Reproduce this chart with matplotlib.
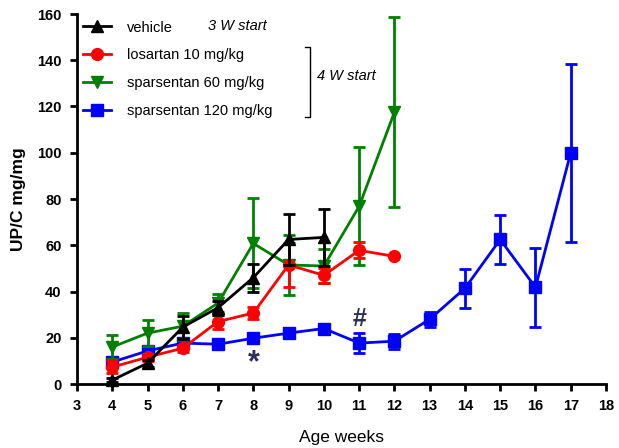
import matplotlib
matplotlib.use("Agg")
import matplotlib.pyplot as plt
from matplotlib.lines import Line2D

plt.rcParams['font.family'] = ['Liberation Sans', 'DejaVu Sans']

# ---- data ----
weeks_veh = [4, 5, 6, 7, 8, 9, 10]
veh_mean = [1.7, 9, 24.6, 33, 46, 62.5, 63.4]
veh_err = [1.0, 1.5, 5.0, 3.0, 6.0, 11.0, 12.4]

weeks_los = [4, 5, 6, 7, 8, 9, 10, 11, 12]
los_mean = [7.3, 11.6, 15.5, 27, 30.7, 51.5, 47, 57.8, 55.2]
los_err = [2.5, 1.5, 1.5, 3.0, 2.5, 9.5, 3.2, 3.5, 0]

weeks_sp60 = [4, 5, 6, 7, 8, 9, 10, 11, 12]
sp60_mean = [16, 22, 25, 35, 60.8, 51.5, 51, 76.8, 117.5]
sp60_err = [5.0, 5.5, 5.8, 4.0, 19.5, 12.8, 7.5, 25.5, 41.0]

weeks_sp120 = [4, 5, 6, 7, 8, 9, 10, 11, 12, 13, 14, 15, 16, 17]
sp120_mean = [9.5, 14.3, 17.7, 17.2, 19.8, 22, 24, 17.7, 18.5, 28, 41.4, 62.5, 41.8, 100]
sp120_err = [2.0, 1.5, 1.0, 1.0, 1.0, 1.0, 2.0, 4.5, 3.3, 3.3, 8.5, 10.4, 17.0, 38.5]

labels = ["vehicle", "losartan 10 mg/kg", "sparsentan 60 mg/kg", "sparsentan 120 mg/kg"]
xticks = list(range(3, 19))
yticks = list(range(0, 161, 20))

W, H = 619, 448
fig = plt.figure(figsize=(W / 100, H / 100), dpi=100)
ax = fig.add_axes([77 / W, (H - 384) / H, (606 - 77) / W, (384 - 14) / H])

common = dict(lw=2, capsize=4, capthick=2, elinewidth=2)
h120 = ax.errorbar(weeks_sp120, sp120_mean, yerr=sp120_err, color='#0000ff', marker='s',
                   ms=8, zorder=2, **common)
h60 = ax.errorbar(weeks_sp60, sp60_mean, yerr=sp60_err, color='#008000', marker='v',
                  ms=9, zorder=3, **common)
hlos = ax.errorbar(weeks_los, los_mean, yerr=los_err, color='#ff0000', marker='o',
                   ms=8.5, zorder=4, **common)
hveh = ax.errorbar(weeks_veh, veh_mean, yerr=veh_err, color='black', marker='^',
                   ms=8, zorder=5, **common)

ax.set_xlim(3, 18)
ax.set_ylim(0, 160)
ax.set_xticks(xticks)
ax.set_yticks(yticks)
ax.set_xticklabels([str(t) for t in xticks], fontweight='bold', fontsize=10.5)
ax.set_yticklabels([str(t) for t in yticks], fontweight='bold', fontsize=10.5)
for s in ['top', 'right']:
    ax.spines[s].set_visible(False)
for s in ['left', 'bottom']:
    ax.spines[s].set_linewidth(2)
ax.tick_params(direction='out', length=5, width=2, pad=6)
for h in [h120, h60, hlos, hveh]:
    h.lines[0].set_clip_on(False)

ax.set_xlabel("Age weeks", fontsize=12.5, labelpad=12)
ax.set_ylabel("UP/C mg/mg", fontsize=12.5, fontweight='bold', labelpad=8)

# significance symbols
ax.text(8, 9, "*", ha='center', va='center', fontsize=22, fontweight='bold', color='#2e2e5c')
ax.text(11, 28, "#", ha='center', va='center', fontsize=18, fontweight='bold', color='#2e2e5c')

# legend
handles = [Line2D([], [], color='black', marker='^', lw=2, ms=8),
           Line2D([], [], color='#ff0000', marker='o', lw=2, ms=8.5),
           Line2D([], [], color='#008000', marker='v', lw=2, ms=9),
           Line2D([], [], color='#0000ff', marker='s', lw=2, ms=8)]
leg = ax.legend(handles, labels, loc='upper left', bbox_to_anchor=(0.0, 0.998),
                frameon=False, fontsize=10.5, handlelength=1.9, handletextpad=1.1,
                labelspacing=0.95, borderaxespad=0.0)

# annotations in pixel coordinates of the figure
def fx(px):
    return px / W

def fy(py):
    return 1 - py / H

fig.text(fx(208), fy(26), "3 W start", fontsize=10.5, style='italic', va='center', ha='left')
fig.text(fx(317), fy(76), "4 W start", fontsize=10.5, style='italic', va='center', ha='left')
fig.add_artist(Line2D([fx(305), fx(310), fx(310), fx(305)],
                      [fy(47), fy(47), fy(117), fy(117)], color='black', lw=1.0))

fig.savefig("out.png", dpi=100)
